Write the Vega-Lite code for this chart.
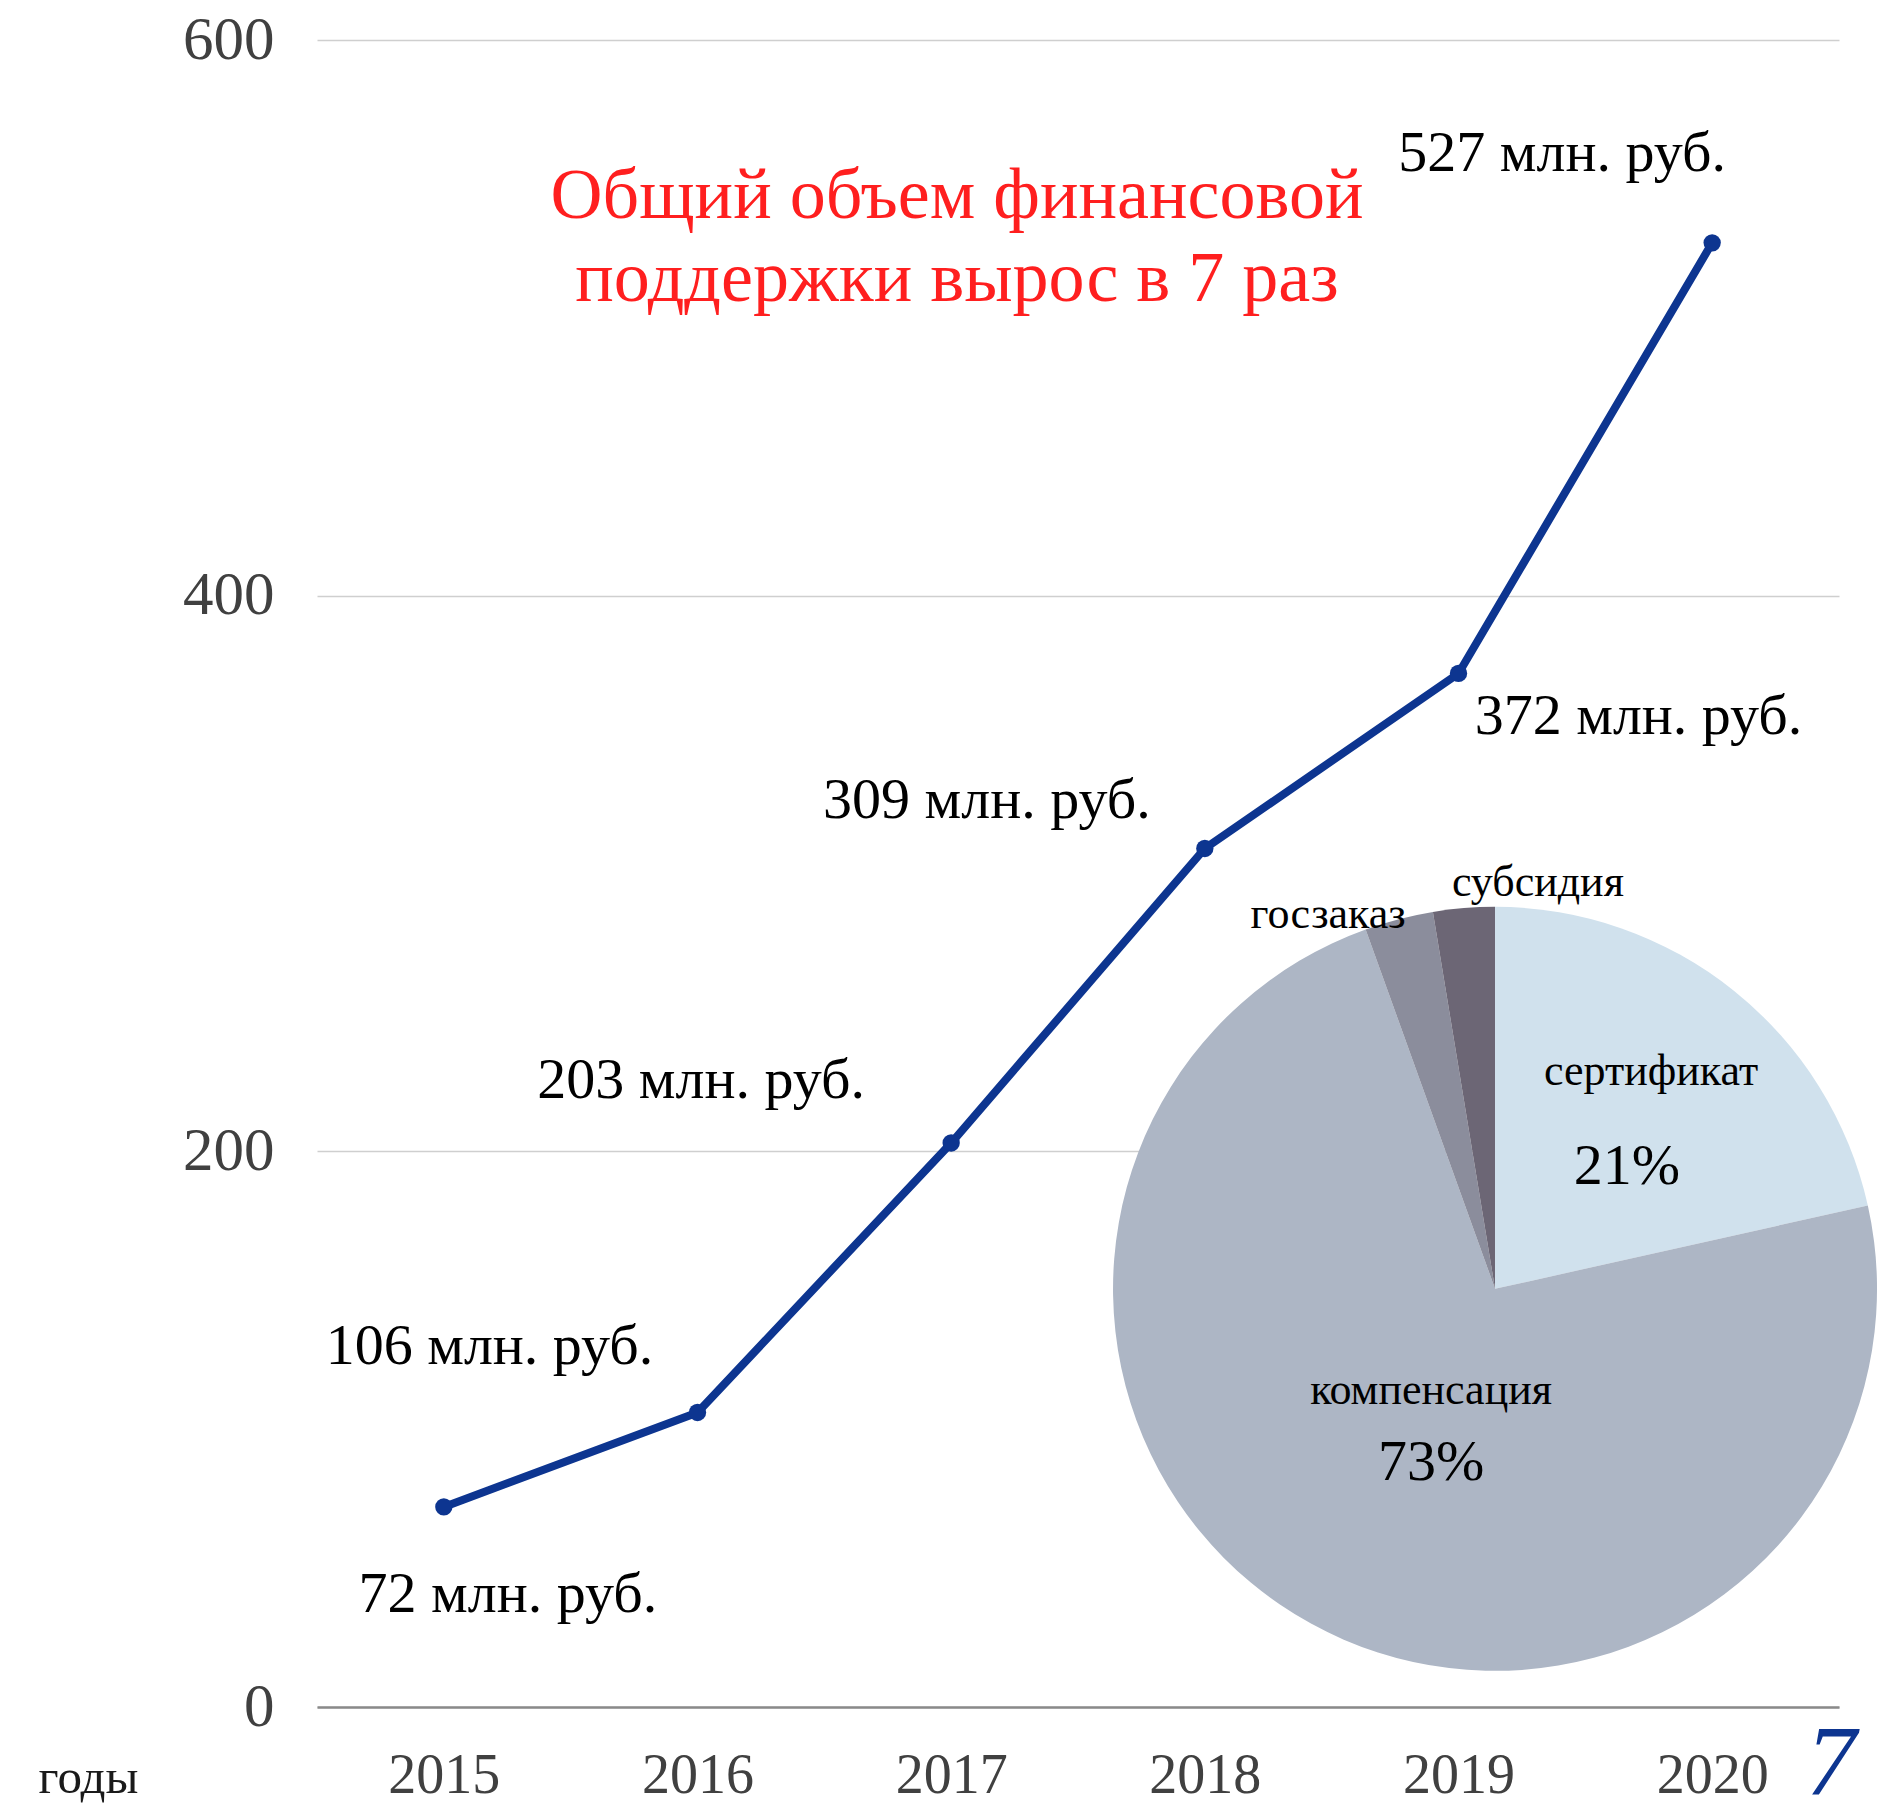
{
  "$schema": "https://vega.github.io/schema/vega-lite/v6.json",
  "width": 1522,
  "height": 1667,
  "autosize": {"type": "none"},
  "padding": {"left": 317, "top": 40, "right": 44, "bottom": 97},
  "background": "white",
  "config": {"view": {"stroke": null}, "font": "Liberation Serif"},
  "datasets": {
    "support": [
      {"year": 2015, "value": 72},
      {"year": 2016, "value": 106},
      {"year": 2017, "value": 203},
      {"year": 2018, "value": 309},
      {"year": 2019, "value": 372},
      {"year": 2020, "value": 527}
    ],
    "structure": [
      {"type": "сертификат", "share": 21.5, "idx": 1},
      {"type": "компенсация", "share": 73.0, "idx": 2},
      {"type": "госзаказ", "share": 2.9, "idx": 3},
      {"type": "субсидия", "share": 2.6, "idx": 4}
    ],
    "one": [{}]
  },
  "layer": [
    {
      "data": {"name": "support"},
      "mark": {"type": "line", "color": "#0d3590", "strokeWidth": 8},
      "encoding": {
        "x": {
          "field": "year", "type": "quantitative",
          "scale": {"domain": [2014.5, 2020.5], "nice": false, "zero": false},
          "axis": {
            "values": [2015, 2016, 2017, 2018, 2019, 2020], "format": "d",
            "grid": false, "ticks": false, "domain": true,
            "domainColor": "#8a8a8a", "domainWidth": 2.5,
            "labelFont": "Liberation Serif", "labelFontSize": 56, "labelColor": "#404040",
            "labelPadding": 41,
            "title": "годы", "titleFont": "Liberation Serif", "titleFontSize": 49,
            "titleFontWeight": "normal", "titleColor": "#1a1a1a",
            "titleX": -229, "titleY": 70, "titleAlign": "center", "titleBaseline": "middle"
          }
        },
        "y": {
          "field": "value", "type": "quantitative",
          "scale": {"domain": [0, 600], "nice": false},
          "axis": {
            "values": [0, 200, 400, 600], "grid": true, "gridColor": "#cfcfcf", "gridWidth": 1.5,
            "ticks": false, "domain": false,
            "labelFont": "Liberation Serif", "labelFontSize": 61, "labelColor": "#404040",
            "labelPadding": 43, "title": ""
          }
        }
      }
    },
    {
      "data": {"name": "support"},
      "mark": {"type": "point", "filled": true, "size": 300, "color": "#0d3590", "opacity": 1},
      "encoding": {
        "x": {"field": "year", "type": "quantitative"},
        "y": {"field": "value", "type": "quantitative"}
      }
    },
    {
      "data": {"name": "structure"},
      "mark": {"type": "arc", "outerRadius": 382},
      "encoding": {
        "x": {"datum": 2019.144, "type": "quantitative"},
        "y": {"datum": 150.5, "type": "quantitative"},
        "theta": {"field": "share", "type": "quantitative", "stack": true},
        "order": {"field": "idx", "type": "quantitative"},
        "color": {
          "field": "type", "type": "nominal", "legend": null,
          "scale": {
            "domain": ["сертификат", "компенсация", "госзаказ", "субсидия"],
            "range": ["#d0e1ed", "#adb6c5", "#8b8d9c", "#6c6675"]
          }
        }
      }
    },
    {
      "data": {"name": "support"},
      "transform": [{"filter": "datum.year == 2015"}],
      "mark": {"type": "text", "fontSize": 58, "color": "#000000", "align": "center", "baseline": "middle", "dx": 64, "dy": 88},
      "encoding": {
        "x": {"field": "year", "type": "quantitative"},
        "y": {"field": "value", "type": "quantitative"},
        "text": {"value": "72 млн. руб."}
      }
    },
    {
      "data": {"name": "support"},
      "transform": [{"filter": "datum.year == 2016"}],
      "mark": {"type": "text", "fontSize": 58, "color": "#000000", "align": "center", "baseline": "middle", "dx": -208, "dy": -65},
      "encoding": {
        "x": {"field": "year", "type": "quantitative"},
        "y": {"field": "value", "type": "quantitative"},
        "text": {"value": "106 млн. руб."}
      }
    },
    {
      "data": {"name": "support"},
      "transform": [{"filter": "datum.year == 2017"}],
      "mark": {"type": "text", "fontSize": 58, "color": "#000000", "align": "center", "baseline": "middle", "dx": -250, "dy": -62},
      "encoding": {
        "x": {"field": "year", "type": "quantitative"},
        "y": {"field": "value", "type": "quantitative"},
        "text": {"value": "203 млн. руб."}
      }
    },
    {
      "data": {"name": "support"},
      "transform": [{"filter": "datum.year == 2018"}],
      "mark": {"type": "text", "fontSize": 58, "color": "#000000", "align": "center", "baseline": "middle", "dx": -218, "dy": -47},
      "encoding": {
        "x": {"field": "year", "type": "quantitative"},
        "y": {"field": "value", "type": "quantitative"},
        "text": {"value": "309 млн. руб."}
      }
    },
    {
      "data": {"name": "support"},
      "transform": [{"filter": "datum.year == 2019"}],
      "mark": {"type": "text", "fontSize": 58, "color": "#000000", "align": "center", "baseline": "middle", "dx": 180, "dy": 44},
      "encoding": {
        "x": {"field": "year", "type": "quantitative"},
        "y": {"field": "value", "type": "quantitative"},
        "text": {"value": "372 млн. руб."}
      }
    },
    {
      "data": {"name": "support"},
      "transform": [{"filter": "datum.year == 2020"}],
      "mark": {"type": "text", "fontSize": 58, "color": "#000000", "align": "center", "baseline": "middle", "dx": -150, "dy": -89},
      "encoding": {
        "x": {"field": "year", "type": "quantitative"},
        "y": {"field": "value", "type": "quantitative"},
        "text": {"value": "527 млн. руб."}
      }
    },
    {
      "data": {"name": "one"},
      "mark": {"type": "text", "fontSize": 44, "color": "#000000", "align": "center", "baseline": "middle"},
      "encoding": {
        "x": {"datum": 2019.759, "type": "quantitative"},
        "y": {"datum": 228.6, "type": "quantitative"},
        "text": {"value": "сертификат"}
      }
    },
    {
      "data": {"name": "one"},
      "mark": {"type": "text", "fontSize": 58, "color": "#000000", "align": "center", "baseline": "middle"},
      "encoding": {
        "x": {"datum": 2019.664, "type": "quantitative"},
        "y": {"datum": 194.4, "type": "quantitative"},
        "text": {"value": "21%"}
      }
    },
    {
      "data": {"name": "one"},
      "mark": {"type": "text", "fontSize": 44, "color": "#000000", "align": "center", "baseline": "middle"},
      "encoding": {
        "x": {"datum": 2018.892, "type": "quantitative"},
        "y": {"datum": 113.7, "type": "quantitative"},
        "text": {"value": "компенсация"}
      }
    },
    {
      "data": {"name": "one"},
      "mark": {"type": "text", "fontSize": 58, "color": "#000000", "align": "center", "baseline": "middle"},
      "encoding": {
        "x": {"datum": 2018.892, "type": "quantitative"},
        "y": {"datum": 87.8, "type": "quantitative"},
        "text": {"value": "73%"}
      }
    },
    {
      "data": {"name": "one"},
      "mark": {"type": "text", "fontSize": 44, "color": "#000000", "align": "center", "baseline": "middle"},
      "encoding": {
        "x": {"datum": 2018.486, "type": "quantitative"},
        "y": {"datum": 285.1, "type": "quantitative"},
        "text": {"value": "госзаказ"}
      }
    },
    {
      "data": {"name": "one"},
      "mark": {"type": "text", "fontSize": 44, "color": "#000000", "align": "center", "baseline": "middle"},
      "encoding": {
        "x": {"datum": 2019.313, "type": "quantitative"},
        "y": {"datum": 296.6, "type": "quantitative"},
        "text": {"value": "субсидия"}
      }
    },
    {
      "data": {"name": "one"},
      "mark": {"type": "text", "fontSize": 72, "color": "#ff1f1f", "align": "center", "baseline": "middle", "lineHeight": 83},
      "encoding": {
        "x": {"datum": 2017.023, "type": "quantitative"},
        "y": {"datum": 543.7, "type": "quantitative"},
        "text": {"value": ["Общий объем финансовой", "поддержки вырос в 7 раз"]}
      }
    },
    {
      "data": {"name": "one"},
      "mark": {"type": "text", "fontSize": 100, "fontStyle": "italic", "color": "#0d3590", "align": "center", "baseline": "middle"},
      "encoding": {
        "x": {"datum": 2020.469, "type": "quantitative"},
        "y": {"datum": -20.5, "type": "quantitative"},
        "text": {"value": "7"}
      }
    }
  ]
}
